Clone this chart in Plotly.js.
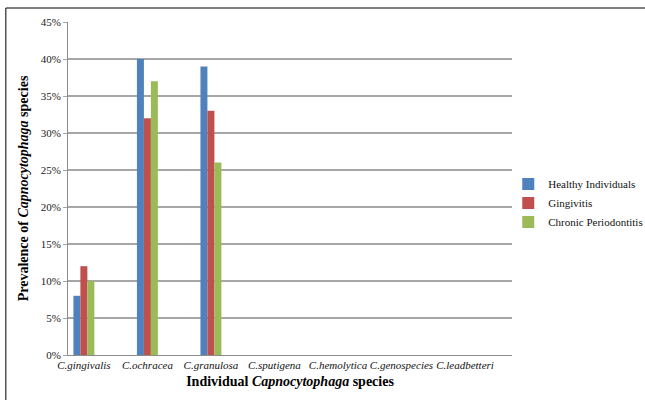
<!DOCTYPE html>
<html>
<head>
<meta charset="utf-8">
<script src="https://cdn.plot.ly/plotly-3.0.1.min.js"></script>
<style>html,body{margin:0;padding:0;background:#fff;}#chart{width:645px;height:400px;}</style>
</head>
<body>
<div id="chart"></div>
<script>
const categories = ["C.gingivalis","C.ochracea","C.granulosa","C.sputigena","C.hemolytica","C.genospecies","C.leadbetteri"];
const healthy = [8, 40, 39, 0, 0, 0, 0];
const gingivitis = [12, 32, 33, 0, 0, 0, 0];
const chronic = [10, 37, 26, 0, 0, 0, 0];
const seriesNames = ["Healthy Individuals", "Gingivitis", "Chronic Periodontitis"];
const yTicks = [0, 5, 10, 15, 20, 25, 30, 35, 40, 45];

const colors = ["#4F81BD", "#C0504D", "#9BBB59"];
const serif = "Liberation Serif, Times New Roman, serif";
const traces = [healthy, gingivitis, chronic].map((vals, i) => ({
  type: "bar",
  x: categories,
  y: vals,
  name: seriesNames[i],
  marker: {color: colors[i]},
  hoverinfo: "none"
}));

const layout = {
  width: 645, height: 400,
  margin: {l: 68, r: 133, t: 22, b: 45, autoexpand: false},
  paper_bgcolor: "#fff", plot_bgcolor: "#fff",
  barmode: "group",
  bargap: 0.67, bargroupgap: 0,
  showlegend: true,
  legend: {
    xref: "container", yref: "container",
    x: 0.788, xanchor: "left", y: 0.4925, yanchor: "middle",
    font: {family: serif, size: 11, color: "#111"},
    itemwidth: 30, tracegroupgap: 0, bgcolor: "rgba(0,0,0,0)"
  },
  xaxis: {
    type: "category",
    range: [-0.25, 6.74],
    showgrid: false,
    showline: true, linecolor: "#8c8c8c", linewidth: 1,
    ticks: "",
    tickfont: {family: serif, size: 11, color: "#111", style: "italic"},
    title: {text: "<b>Individual <i>Capnocytophaga</i> species</b>", font: {family: serif, size: 14, color: "#000"}, standoff: 5}
  },
  yaxis: {
    range: [0, 45],
    tickvals: yTicks,
    ticktext: yTicks.map(v => v + "%"),
    showgrid: true, gridcolor: "#a6a6a6", gridwidth: 1.3,
    showline: true, linecolor: "#8c8c8c", linewidth: 1,
    ticks: "outside", ticklen: 4, tickcolor: "#a6a6a6",
    zeroline: false,
    tickfont: {family: serif, size: 11, color: "#222"},
    title: {text: "<b>Prevalence of <i>Capnocytophaga</i> species</b>", font: {family: serif, size: 14, color: "#000"}, standoff: 8}
  },
  shapes: [
    {type: "line", xref: "paper", yref: "paper", x0: -0.14, x1: 1.5, y0: 1.042, y1: 1.042, line: {color: "#000", width: 1}},
    {type: "line", xref: "paper", yref: "paper", x0: -0.14, x1: -0.14, y0: 1.042, y1: -0.2, line: {color: "#000", width: 1}}
  ]
};

Plotly.newPlot("chart", traces, layout, {displayModeBar: false, staticPlot: true});
</script>
</body>
</html>
